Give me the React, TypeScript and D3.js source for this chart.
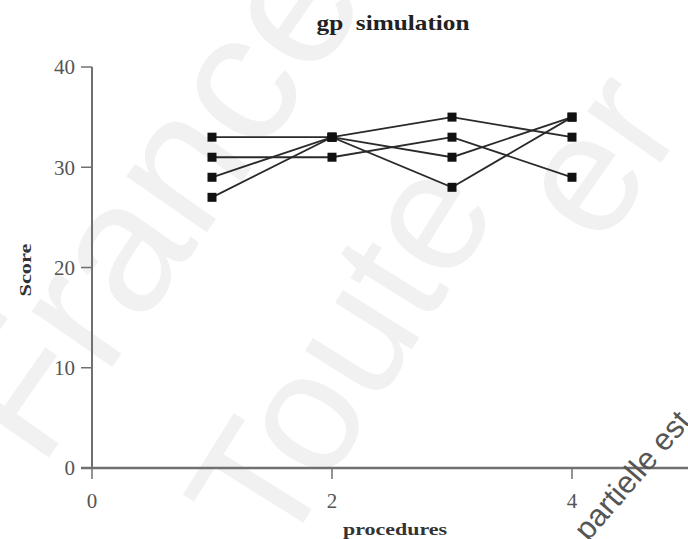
import React from "react";
import * as d3 from "d3";

const W = 688;
const H = 539;

const procedures = [1, 2, 3, 4];
const seriesA = [33, 33, 35, 33];
const seriesB = [31, 31, 33, 29];
const seriesC = [29, 33, 31, 35];
const seriesD = [27, 33, 28, 35];
const allSeries = [seriesA, seriesB, seriesC, seriesD];

const yTicks = [0, 10, 20, 30, 40];
const xTicks = [0, 2, 4];

const x = d3.scaleLinear().domain([0, 5]).range([92, 692]);
const y = d3.scaleLinear().domain([0, 40]).range([468, 67]);

const line = d3
  .line<[number, number]>()
  .x((d) => x(d[0]))
  .y((d) => y(d[1]));

const serif = "'Liberation Serif', 'DejaVu Serif', serif";
const sans = "'Liberation Sans', Arial, sans-serif";
const axisColor = "#707070";

export default function App() {
  return (
    <svg
      width={W}
      height={H}
      style={{ position: "absolute", left: 0, top: 0, background: "#fff" }}
    >
      {/* background watermark */}
      <g fontFamily={sans} fill="#f1f1f1">
        <text transform="translate(40,470) rotate(-55)" fontSize={185}>
          France
        </text>
        <text transform="translate(280,560) rotate(-58)" fontSize={170}>
          Toute
        </text>
        <text transform="translate(600,250) rotate(-55)" fontSize={170}>
          er
        </text>
      </g>

      {/* title */}
      <text
        x={393}
        y={30}
        textAnchor="middle"
        fontFamily={serif}
        fontWeight="bold"
        fontSize={21}
        textLength={153}
        lengthAdjust="spacingAndGlyphs"
        fill="#222"
        style={{ whiteSpace: "pre" }}
      >
        {"gp  simulation"}
      </text>

      {/* y axis */}
      <line x1={x(0)} x2={x(0)} y1={y(40)} y2={y(0)} stroke={axisColor} strokeWidth={2} />
      {yTicks.map((t) => (
        <g key={"y" + t}>
          <line x1={x(0) - 11} x2={x(0)} y1={y(t)} y2={y(t)} stroke={axisColor} strokeWidth={1.5} />
          <text
            x={x(0) - 17}
            y={y(t)}
            dy="0.35em"
            textAnchor="end"
            fontFamily={serif}
            fontSize={21}
            fill="#555"
          >
            {t}
          </text>
        </g>
      ))}
      <text
        transform={`translate(31,270) rotate(-90)`}
        textAnchor="middle"
        fontFamily={serif}
        fontWeight="bold"
        fontSize={17}
        textLength={53}
        lengthAdjust="spacingAndGlyphs"
        fill="#333"
      >
        Score
      </text>

      {/* x axis */}
      <line x1={x(0) - 11} x2={W} y1={y(0)} y2={y(0)} stroke={axisColor} strokeWidth={2.5} />
      {xTicks.map((t) => (
        <g key={"x" + t}>
          <line x1={x(t)} x2={x(t)} y1={y(0)} y2={y(0) + 11} stroke={axisColor} strokeWidth={1.5} />
          <text
            x={x(t)}
            y={y(0) + 40}
            textAnchor="middle"
            fontFamily={serif}
            fontSize={21}
            fill="#555"
          >
            {t}
          </text>
        </g>
      ))}
      <text
        x={395}
        y={535}
        textAnchor="middle"
        fontFamily={serif}
        fontWeight="bold"
        fontSize={16}
        textLength={104}
        lengthAdjust="spacingAndGlyphs"
        fill="#333"
      >
        procedures
      </text>

      {/* series */}
      {allSeries.map((s, i) => (
        <path
          key={"l" + i}
          d={line(s.map((v, j) => [procedures[j], v] as [number, number])) || ""}
          fill="none"
          stroke="#2a2a2a"
          strokeWidth={1.8}
        />
      ))}
      {allSeries.map((s, i) =>
        s.map((v, j) => (
          <rect
            key={`m${i}-${j}`}
            x={x(procedures[j]) - 4.5}
            y={y(v) - 4.5}
            width={9}
            height={9}
            fill="#111"
          />
        ))
      )}

      {/* foreground watermark */}
      <text
        transform="translate(588,542) rotate(-49)"
        fontFamily={sans}
        fontSize={31}
        fill="#555"
      >
        partielle est
      </text>
    </svg>
  );
}
